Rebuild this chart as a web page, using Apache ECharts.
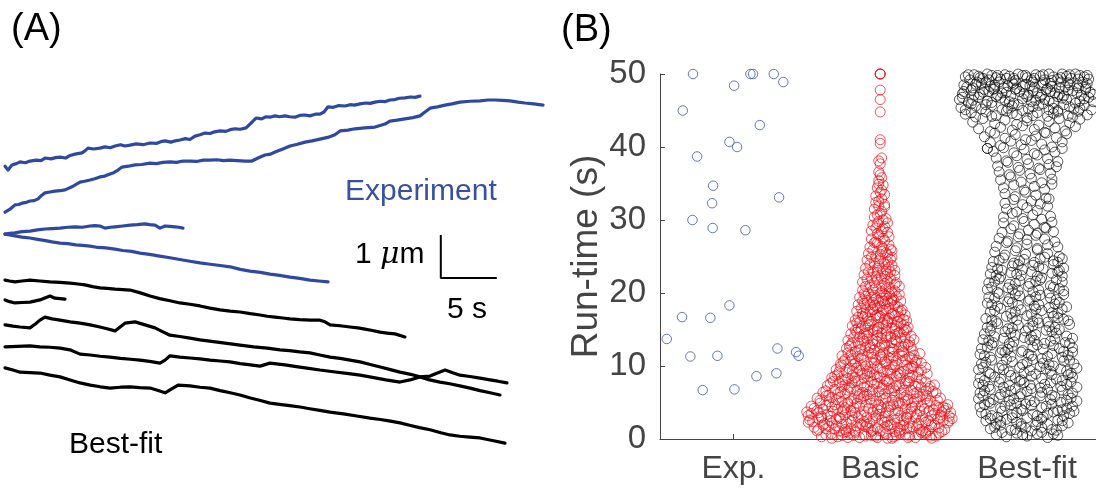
<!DOCTYPE html>
<html><head><meta charset="utf-8">
<script src="https://cdn.jsdelivr.net/npm/echarts@6/dist/echarts.min.js"></script>
<style>html,body{margin:0;padding:0;background:#fff}#c{width:1096px;height:494px}</style>
</head><body><div id="c"></div>
<script>
const FONT = '"Liberation Sans", Arial, Helvetica, sans-serif';

// ---------- Panel B data ----------
const categories = ['Exp.', 'Basic', 'Best-fit'];
const runTimeTicks = [0, 10, 20, 30, 40, 50];

// [offset from category centre, run-time (s)]
const expPoints = [
  [-0.275,50],[0.116,50],[0.134,50],[0.275,50],[0.005,48.4],[0.34,48.9],[-0.345,45.0],[0.18,43.0],
  [-0.027,40.7],[0.025,40.0],[-0.247,38.7],[-0.138,34.7],[-0.145,32.3],[0.311,33.1],[-0.279,30.0],
  [-0.141,28.9],[0.082,28.6],[-0.027,18.3],[-0.35,16.7],[-0.157,16.6],[-0.454,13.7],[0.30,12.4],
  [0.427,11.9],[0.445,11.4],[-0.293,11.3],[-0.109,11.4],[0.293,9.0],[0.157,8.6],[-0.209,6.7],[0.007,6.8]
];

// flat list: offset, run-time, offset, run-time ...
const basicSwarm = [
-.37,.6,-.29,.3,-.21,.8,-.14,.2,-.06,.5,.02,.9,.09,.3,.17,.6,.24,.2,.31,.7,.38,.4,-.33,.1,-.25,.9,-.10,.4,.05,.1,.13,.8,.20,.4,.28,.9,.35,.1,-.18,.5,-.02,.2,.40,.8,
-.42,1.3,-.35,1.7,-.28,1.1,-.20,1.5,-.12,1.9,-.05,1.2,.03,1.6,.10,1.0,.18,1.4,.25,1.8,.33,1.2,.40,1.5,-.39,1.9,-.31,1.4,-.23,1.0,-.16,1.8,-.08,1.5,.00,1.1,.07,1.9,.14,1.3,.22,1.7,.29,1.1,.37,1.9,.44,1.3,-.45,1.6,.12,1.6,
-.46,2.4,-.38,2.1,-.30,2.7,-.23,2.3,-.15,2.9,-.07,2.2,.01,2.6,.08,2.0,.16,2.5,.24,2.9,.31,2.3,.39,2.7,.46,2.2,-.42,2.8,-.34,2.5,-.26,2.0,-.19,2.6,-.11,2.4,-.03,2.9,.05,2.4,.12,2.8,.20,2.2,.28,2.6,.35,2.0,.43,2.5,-.49,2.3,.49,2.8,
-.47,3.5,-.40,3.1,-.32,3.8,-.24,3.3,-.17,3.6,-.09,3.0,-.01,3.4,.06,3.9,.14,3.2,.21,3.7,.29,3.1,.37,3.5,.44,3.9,-.43,3.9,-.36,3.4,-.28,3.0,-.20,3.9,-.13,3.3,-.05,3.7,.03,3.1,.10,3.5,.18,3.0,.25,3.4,.33,3.8,.41,3.3,.48,3.6,-.50,3.7,
-.45,4.2,-.37,4.6,-.29,4.1,-.22,4.8,-.14,4.4,-.06,4.9,.01,4.3,.09,4.7,.17,4.1,.24,4.5,.32,4.9,.40,4.3,.46,4.7,-.41,4.9,-.33,4.4,-.25,4.0,-.18,4.3,-.10,4.6,-.02,4.1,.05,4.5,.13,4.9,.21,4.2,.28,4.6,.36,4.0,.43,4.4,
-.41,5.3,-.33,5.7,-.26,5.1,-.18,5.5,-.11,5.9,-.03,5.2,.04,5.6,.12,5.0,.19,5.4,.27,5.8,.34,5.2,.41,5.6,-.37,5.9,-.30,5.4,-.22,5.0,-.15,5.8,-.07,5.4,.00,5.9,.08,5.3,.16,5.7,.23,5.1,.31,5.5,
-.39,6.4,-.31,6.8,-.24,6.2,-.16,6.6,-.09,6.1,-.01,6.5,.06,6.9,.14,6.3,.21,6.7,.29,6.1,.36,6.5,-.35,6.0,-.27,6.5,-.20,6.9,-.12,6.4,-.05,6.8,.03,6.2,.10,6.6,.18,6.0,.25,6.4,.33,6.9,
-.36,7.3,-.28,7.7,-.21,7.1,-.13,7.5,-.06,7.9,.02,7.4,.09,7.0,.17,7.6,.24,7.2,.31,7.8,.37,7.4,-.32,7.9,-.24,7.4,-.17,7.9,-.09,7.2,-.02,7.6,.06,7.8,.13,7.3,.20,7.9,.28,7.1,
-.33,8.4,-.26,8.1,-.19,8.7,-.11,8.3,-.04,8.8,.03,8.2,.11,8.6,.18,8.0,.25,8.5,.32,8.9,-.29,8.8,-.22,8.3,-.15,8.0,-.07,8.6,.00,8.4,.07,8.9,.14,8.3,.22,8.7,
-.30,9.5,-.23,9.1,-.16,9.7,-.09,9.3,-.02,9.9,.05,9.4,.12,9.0,.19,9.6,.26,9.2,.31,9.8,-.27,9.9,-.19,9.3,-.12,9.0,-.05,9.6,.02,9.2,.09,9.8,.16,9.3,.23,9.9,
-.27,10.3,-.20,10.7,-.13,10.1,-.06,10.5,.01,10.9,.08,10.2,.15,10.6,.22,10.0,.28,10.4,-.24,10.9,-.17,10.4,-.10,10.0,-.03,10.8,.04,10.3,.11,10.7,.18,10.1,.25,10.8,
-.26,11.4,-.19,11.0,-.12,11.6,-.05,11.2,.02,11.8,.09,11.3,.16,11.9,.23,11.5,-.22,11.8,-.15,11.3,-.08,11.9,.00,11.5,.06,11.1,.13,11.6,.20,11.2,.27,11.7,
-.23,12.4,-.17,12.0,-.10,12.6,-.04,12.2,.03,12.8,.09,12.3,.16,12.7,.22,12.1,-.20,12.9,-.13,12.3,-.07,12.8,.00,12.5,.06,12.0,.13,12.6,.19,12.9,
-.22,13.5,-.15,13.1,-.09,13.7,-.02,13.3,.04,13.9,.11,13.4,.17,13.0,.23,13.6,-.18,13.9,-.11,13.4,-.05,13.0,.01,13.8,.08,13.2,.14,13.8,.20,13.3,
-.20,14.4,-.14,14.0,-.08,14.6,-.02,14.2,.04,14.8,.10,14.3,.16,14.7,.21,14.1,-.17,14.9,-.11,14.4,-.05,14.9,.01,14.5,.07,14.0,.13,14.6,
-.19,15.5,-.13,15.1,-.07,15.7,-.01,15.3,.05,15.9,.11,15.4,.17,15.0,-.16,15.9,-.10,15.4,-.04,15.0,.02,15.8,.08,15.2,.14,15.8,.19,15.3,
-.17,16.3,-.12,16.8,-.06,16.1,-.01,16.6,.05,16.2,.10,16.9,.16,16.4,-.14,16.0,-.09,16.5,-.03,16.9,.03,16.4,.08,16.0,.13,16.7,.18,16.2,
-.16,17.5,-.10,17.1,-.05,17.7,.01,17.3,.06,17.9,.12,17.4,.17,17.0,-.13,17.9,-.07,17.4,-.02,17.0,.04,17.8,.09,17.2,.15,17.7,
-.15,18.4,-.10,18.0,-.05,18.7,.00,18.2,.05,18.8,.10,18.3,.14,18.9,-.12,18.9,-.07,18.4,-.02,18.0,.03,18.5,.08,18.9,.12,18.1,
-.14,19.4,-.09,19.0,-.04,19.7,.01,19.3,.06,19.9,.11,19.5,-.11,19.9,-.06,19.4,-.01,19.0,.04,19.6,.09,19.1,.13,19.8,
-.12,20.4,-.08,20.0,-.03,20.7,.01,20.2,.06,20.8,.10,20.3,.13,20.9,-.10,20.9,-.05,20.4,.00,20.0,.04,20.6,.08,20.1,
-.12,21.5,-.07,21.1,-.02,21.8,.03,21.3,.07,21.9,.11,21.4,-.09,21.9,-.04,21.4,.01,21.0,.05,21.6,.10,21.2,
-.11,22.5,-.06,22.1,-.02,22.8,.03,22.3,.07,22.9,.10,22.4,-.08,22.9,-.03,22.3,.01,22.0,.05,22.6,
-.10,23.4,-.05,23.0,-.01,23.7,.04,23.2,.08,23.8,-.07,23.9,-.02,23.4,.02,23.0,.06,23.5,.10,23.1,
-.09,24.5,-.04,24.1,.00,24.7,.05,24.3,.08,24.9,-.06,24.9,-.01,24.4,.03,24.0,.07,24.6,
-.08,25.4,-.03,25.0,.01,25.7,.05,25.2,.08,25.8,-.05,25.9,.00,25.3,.04,25.5,
-.07,26.3,-.02,26.8,.02,26.1,.06,26.6,-.04,26.9,.01,26.4,.07,26.0,
-.06,27.4,-.01,27.9,.03,27.2,.06,27.7,-.03,27.0,.02,27.5,
-.06,28.5,-.02,28.1,.02,28.8,.05,28.3,-.03,28.9,.01,28.4,
-.05,29.3,-.01,29.8,.03,29.1,.05,29.6,-.02,29.5,
-.04,30.4,.00,30.9,.04,30.2,-.02,30.7,.02,30.0,
-.04,31.5,.01,31.2,.03,31.8,-.01,31.9,
-.03,32.4,.01,32.9,.03,32.1,-.01,32.6,
-.03,33.3,.00,33.8,.03,33.5,
-.02,34.4,.01,34.1,.02,34.8,-.01,34.9,
-.01,35.4,.01,35.8,.00,36.2,-.01,36.6,.00,37.7,-.01,38.1,.01,38.5,
.00,40.5,.00,41.0,.00,44.8,.00,46.5,.00,47.8,.00,50,.00,50,.00,50,
-.40,.3,-.33,.7,-.26,.5,-.17,.9,-.11,.6,-.03,.4,.04,.7,.11,.5,.19,.2,.26,.6,.34,.4,-.22,.2,.08,.1,.31,.9,
-.43,1.1,-.37,1.4,-.30,1.8,-.24,1.3,-.17,1.1,-.10,1.7,-.02,1.4,.05,1.8,.13,1.1,.20,1.5,.27,1.3,.35,1.7,.42,1.0,-.06,1.0,.16,1.9,
-.48,2.6,-.40,2.9,-.33,2.2,-.27,2.8,-.20,2.4,-.13,2.1,-.05,2.7,.03,2.3,.10,2.6,.18,2.9,.26,2.1,.33,2.5,.41,2.9,.47,2.5,-.09,2.0,
-.49,3.2,-.42,3.6,-.34,3.1,-.26,3.7,-.19,3.2,-.11,3.8,-.03,3.2,.04,3.6,.12,3.9,.19,3.4,.27,3.8,.35,3.2,.42,3.7,.47,3.1,.00,3.9,
-.47,4.5,-.39,4.1,-.31,4.7,-.24,4.3,-.16,4.9,-.08,4.2,-.01,4.7,.07,4.4,.15,4.8,.22,4.4,.30,4.1,.38,4.6,.45,4.2,
-.43,5.6,-.35,5.1,-.28,5.7,-.20,5.2,-.13,5.5,-.05,5.9,.02,5.4,.10,5.8,.17,5.2,.25,5.5,.32,5.9,.39,5.3,
-.37,6.6,-.29,6.2,-.22,6.7,-.14,6.1,-.07,6.5,.01,6.9,.08,6.3,.16,6.7,.23,6.2,.31,6.6,.38,6.3,
-.34,7.6,-.26,7.2,-.19,7.7,-.11,7.1,-.04,7.5,.04,7.9,.11,7.3,.19,7.7,.26,7.5,.34,7.2,
-.31,8.6,-.24,8.1,-.17,8.4,-.09,8.9,-.02,8.5,.05,8.0,.13,8.8,.20,8.4,.28,8.2,
-.28,9.2,-.21,9.6,-.14,9.4,-.07,9.1,.00,9.7,.07,9.5,.14,9.1,.21,9.7,.28,9.4,
-.25,10.6,-.18,10.2,-.11,10.8,-.04,10.4,.03,10.6,.10,10.1,.17,10.9,.24,10.5,-.20,11.5,-.13,11.1,-.06,11.7,.01,11.3,.08,11.9,.15,11.4,.22,11.0,
-.21,12.7,-.14,12.2,-.07,12.5,.01,12.9,.08,12.4,.15,12.1,.21,12.6,-.19,13.2,-.12,13.8,-.05,13.5,.03,13.1,.10,13.6,.17,13.9,-.16,14.6,-.09,14.2,-.02,14.7,.05,14.1,.12,14.5,.18,14.9,
-.15,15.2,-.08,15.6,-.02,15.1,.04,15.6,.10,15.1,.16,15.6,-.15,16.7,-.08,16.2,.00,16.8,.06,16.5,.12,16.1,-.12,17.2,-.05,17.8,.02,17.6,.08,17.1,.14,17.5,-.11,18.6,-.04,18.3,.02,18.9,.07,18.6,-.10,19.6,-.03,19.2,.03,19.8,.08,19.3
];

const bestFitSwarm = [
-.42,49.6,-.36,49.9,-.30,49.4,-.24,49.8,-.18,49.3,-.12,49.7,-.06,50.0,.00,49.5,.06,49.9,.12,49.2,.18,49.6,.24,50.0,.30,49.4,.36,49.8,.42,49.3,-.39,49.2,-.33,49.7,-.27,50.0,-.21,49.5,-.15,49.9,-.09,49.4,-.03,49.8,.03,49.2,.09,49.7,.15,50.0,.21,49.3,.27,49.7,.33,50.0,.39,49.6,
-.43,48.5,-.37,48.1,-.31,48.7,-.25,48.3,-.19,48.9,-.13,48.4,-.07,48.0,-.01,48.6,.05,48.2,.11,48.8,.17,48.3,.23,48.9,.29,48.5,.35,48.1,.41,48.7,-.34,48.9,-.22,48.0,-.10,48.8,.02,48.4,.14,48.0,.26,48.2,.38,48.9,
-.44,47.3,-.38,47.8,-.32,47.2,-.26,47.6,-.20,47.1,-.14,47.5,-.08,47.9,-.02,47.3,.04,47.7,.10,47.1,.16,47.6,.22,47.2,.28,47.8,.34,47.4,.40,47.9,.45,47.2,-.29,47.9,-.11,47.0,.07,47.4,.25,47.0,
-.46,46.5,-.40,46.1,-.33,46.8,-.27,46.3,-.21,46.9,-.15,46.4,-.09,46.0,-.03,46.6,.03,46.2,.09,46.8,.15,46.3,.21,46.9,.27,46.5,.33,46.0,.39,46.6,.45,46.2,-.18,46.7,.12,46.5,
-.45,45.4,-.38,45.9,-.31,45.2,-.24,45.7,-.17,45.1,-.10,45.6,-.03,45.0,.04,45.5,.11,45.9,.18,45.3,.25,45.8,.32,45.2,.39,45.7,.44,45.1,-.06,45.8,.21,45.0,
-.42,44.5,-.35,44.1,-.28,44.8,-.21,44.3,-.14,44.9,-.07,44.4,.00,44.0,.07,44.7,.14,44.2,.21,44.8,.28,44.3,.35,44.9,.41,44.4,
-.37,43.4,-.30,43.9,-.22,43.2,-.15,43.7,-.07,43.1,.00,43.6,.08,43.0,.15,43.5,.22,43.9,.29,43.3,.36,43.8,
-.33,42.5,-.25,42.1,-.18,42.7,-.10,42.3,-.03,42.9,.05,42.4,.12,42.0,.19,42.6,.26,42.2,.33,42.8,
-.29,41.4,-.22,41.9,-.15,41.2,-.08,41.7,-.01,41.0,.06,41.5,.13,41.9,.20,41.3,.27,41.8,
-.25,40.6,-.18,40.2,-.11,40.8,-.04,40.3,.03,40.9,.10,40.4,.17,40.0,.24,40.7,-.27,39.8,-.27,39.8,
-.23,39.4,-.16,39.9,-.09,39.2,-.02,39.7,.05,39.1,.12,39.6,.19,39.3,.24,39.8,
-.21,38.5,-.14,38.1,-.07,38.8,.00,38.3,.07,38.9,.14,38.4,.21,38.0,
-.20,37.4,-.13,37.9,-.06,37.2,.01,37.7,.08,37.1,.15,37.6,.20,37.3,
-.19,36.6,-.12,36.2,-.05,36.8,.02,36.3,.09,36.9,.16,36.4,
-.18,35.5,-.11,35.9,-.04,35.2,.03,35.7,.10,35.1,.17,35.6,
-.16,34.4,-.09,34.8,-.02,34.1,.05,34.6,.12,34.2,.17,34.9,
-.15,33.6,-.08,33.2,-.01,33.8,.06,33.4,.13,33.0,
-.15,32.3,-.09,32.8,-.03,32.1,.03,32.6,.09,32.2,.15,32.9,
-.14,31.5,-.07,31.1,.00,31.7,.07,31.3,.14,31.9,
-.16,30.4,-.10,30.9,-.03,30.2,.04,30.7,.10,30.1,.16,30.5,
-.16,29.6,-.09,29.2,-.02,29.8,.05,29.4,.12,29.0,.17,29.7,
-.17,28.3,-.11,28.8,-.05,28.1,.01,28.6,.07,28.2,.13,28.9,.18,28.4,
-.19,27.5,-.13,27.1,-.06,27.7,.00,27.3,.06,27.9,.12,27.4,.19,27.0,
-.21,26.4,-.14,26.9,-.07,26.2,.00,26.7,.07,26.1,.14,26.6,.21,26.3,
-.22,25.6,-.15,25.2,-.08,25.8,-.01,25.3,.07,25.9,.14,25.4,.22,25.0,
-.23,24.3,-.16,24.8,-.09,24.1,-.02,24.6,.05,24.2,.12,24.9,.18,24.4,.24,24.7,
-.24,23.5,-.17,23.1,-.10,23.7,-.03,23.2,.04,23.8,.11,23.3,.18,23.9,.25,23.4,
-.25,22.6,-.18,22.2,-.11,22.8,-.04,22.4,.03,22.9,.10,22.1,.17,22.7,.24,22.3,
-.26,21.4,-.19,21.9,-.12,21.2,-.05,21.7,.02,21.3,.09,21.8,.16,21.0,.24,21.5,
-.27,20.5,-.20,20.1,-.13,20.7,-.06,20.3,.01,20.9,.08,20.4,.15,20.0,.22,20.6,
-.26,19.4,-.19,19.9,-.12,19.2,-.05,19.6,.02,19.1,.09,19.7,.16,19.3,.25,19.8,
-.27,18.6,-.20,18.2,-.13,18.8,-.06,18.3,.01,18.9,.08,18.4,.15,18.0,.22,18.7,.27,18.1,
-.25,17.4,-.18,17.9,-.11,17.2,-.04,17.7,.03,17.1,.10,17.6,.17,17.3,.24,17.8,
-.28,16.5,-.21,16.1,-.14,16.8,-.07,16.3,.00,16.9,.07,16.4,.14,16.0,.21,16.6,.28,16.2,
-.27,15.3,-.20,15.8,-.13,15.1,-.06,15.6,.01,15.2,.08,15.9,.15,15.4,.22,15.0,.29,15.7,
-.29,14.4,-.22,14.0,-.15,14.7,-.08,14.2,-.01,14.8,.06,14.3,.13,14.9,.20,14.5,.27,14.1,
-.30,13.6,-.23,13.2,-.16,13.8,-.09,13.3,-.02,13.9,.05,13.5,.12,13.1,.19,13.7,.26,13.2,.31,13.8,
-.31,12.4,-.24,12.9,-.17,12.2,-.10,12.7,-.03,12.1,.04,12.6,.11,12.3,.18,12.8,.25,12.0,.31,12.5,
-.32,11.6,-.25,11.2,-.18,11.8,-.11,11.3,-.04,11.9,.03,11.4,.10,11.0,.17,11.7,.24,11.2,.31,11.9,
-.31,10.3,-.24,10.8,-.17,10.1,-.10,10.6,-.03,10.2,.04,10.9,.11,10.4,.18,10.0,.25,10.7,.32,10.3,
-.33,9.5,-.26,9.1,-.19,9.7,-.12,9.2,-.05,9.8,.02,9.4,.09,9.9,.16,9.3,.23,9.6,.30,9.0,.34,9.7,
-.32,8.4,-.25,8.9,-.18,8.2,-.11,8.7,-.04,8.1,.03,8.6,.10,8.3,.17,8.8,.24,8.0,.31,8.5,-.29,8.0,
-.33,7.6,-.26,7.2,-.19,7.8,-.12,7.3,-.05,7.9,.02,7.4,.09,7.0,.16,7.7,.23,7.2,.30,7.8,.34,7.1,
-.32,6.3,-.25,6.8,-.18,6.1,-.11,6.6,-.04,6.2,.03,6.9,.10,6.4,.17,6.0,.24,6.7,.31,6.3,-.08,6.9,
-.33,5.5,-.26,5.1,-.19,5.7,-.12,5.2,-.05,5.8,.02,5.3,.09,5.9,.16,5.4,.23,5.0,.30,5.6,.34,5.2,
-.32,4.4,-.25,4.9,-.18,4.2,-.11,4.7,-.04,4.1,.03,4.6,.10,4.3,.17,4.8,.24,4.0,.31,4.5,-.07,4.9,
-.31,3.6,-.24,3.2,-.17,3.8,-.10,3.3,-.03,3.9,.04,3.4,.11,3.0,.18,3.7,.25,3.2,.32,3.8,.14,3.5,
-.28,2.5,-.21,2.1,-.14,2.7,-.07,2.3,.00,2.9,.07,2.4,.14,2.0,.21,2.6,.28,2.2,-.10,2.9,
-.25,1.4,-.18,1.9,-.11,1.2,-.04,1.7,.03,1.1,.10,1.6,.17,1.3,.24,1.8,-.01,1.5,
-.21,.6,-.14,.3,-.07,.8,.00,.4,.07,.7,.14,.2,.21,.5,
-.40,49.9,-.32,49.5,-.26,49.2,-.20,49.8,-.14,49.4,-.08,49.1,-.01,49.8,.05,49.4,.11,49.9,.17,49.1,.23,49.5,.29,49.9,.35,49.3,.41,49.8,
-.41,48.2,-.35,48.6,-.28,48.9,-.22,48.5,-.16,48.1,-.09,48.6,-.03,48.3,.04,48.9,.10,48.5,.16,48.7,.22,48.1,.28,48.8,.34,48.4,.40,48.2,
-.43,47.6,-.36,47.1,-.30,47.5,-.23,47.9,-.17,47.4,-.05,47.6,.01,47.1,.13,47.8,.19,47.4,.31,47.7,.37,47.1,.43,47.5,
-.44,46.8,-.37,46.4,-.24,46.1,-.12,46.2,.00,46.9,.06,46.4,.18,46.1,.24,46.7,.36,46.3,.42,46.8,
-.42,45.1,-.35,45.6,-.28,45.8,-.13,45.3,.01,45.2,.08,45.7,.15,45.1,.29,45.5,.36,45.3,
-.38,44.7,-.24,44.2,-.10,44.6,.04,44.3,.18,44.6,.31,44.1,
-.17,.9,-.03,.6,.10,.9,.18,.7,
-.22,1.6,-.08,1.3,.06,1.9,.20,1.2,
-.25,2.8,-.18,2.4,-.04,2.1,.10,2.7,.24,2.5,
-.28,3.4,-.20,3.0,-.07,3.6,.07,3.2,.21,3.9,.29,3.5,
-.29,4.7,-.15,4.5,-.01,4.8,.13,4.5,.27,4.2,
-.30,5.9,-.23,5.4,-.09,5.5,.05,5.1,.19,5.8,.27,5.3,
-.29,6.6,-.15,6.4,.00,6.5,.14,6.8,.28,6.1,
-.30,7.4,-.16,7.1,-.02,7.7,.12,7.5,.27,7.5,
-.22,8.5,-.08,8.4,.06,8.9,.20,8.2,.28,8.8,
-.30,9.8,-.16,9.5,-.02,9.1,.13,9.6,.27,9.3,
-.28,10.5,-.14,10.9,.00,10.5,.15,10.2,.29,10.8,
-.29,11.4,-.15,11.9,.01,11.6,.14,11.3,.28,11.5,
-.27,12.6,-.13,12.3,.07,12.9,.22,12.4,
-.26,13.5,-.12,13.1,.02,13.6,.16,13.4,.29,13.1,
-.25,14.8,-.11,14.5,.03,14.1,.17,14.7,
-.24,15.5,-.10,15.2,.04,15.5,.19,15.3,
-.24,16.3,-.10,16.6,.04,16.1,.18,16.8,.25,16.4,
-.22,17.6,-.08,17.4,.06,17.8,.21,17.2,
-.24,18.4,-.10,18.7,.05,18.2,.19,18.5,
-.22,19.3,-.08,19.8,.06,19.5,.20,19.1,
-.24,20.8,-.10,20.5,.04,20.2,.18,20.8,.25,20.3,
-.22,21.6,-.08,21.3,.06,21.6,.20,21.8,
-.21,22.4,-.07,22.6,.07,22.3,.21,22.9,
-.20,23.3,-.06,23.9,.08,23.6,.22,23.1,
-.19,24.5,-.05,24.4,.09,24.7,.21,24.2
];

// ---------- Panel A data: [time (s), position (um)] ----------
const expTrace1 = [[0.09,7.60],[0.36,7.51],[0.71,7.63],[1.1,7.66],[1.43,7.70],[1.9,7.68],[2.32,7.72],[2.9,7.74],[3.3,7.73],[3.66,7.79],[4.2,7.77],[4.6,7.80],[5.0,7.81],[5.5,7.79],[5.9,7.85],[6.34,7.88],[6.96,7.91],[7.2,7.95],[7.5,8.02],[8.0,8.00],[8.57,8.02],[9.0,8.05],[9.5,8.03],[9.91,8.07],[10.4,8.10],[10.8,8.07],[11.25,8.09],[11.8,8.12],[12.4,8.10],[13.04,8.14],[13.6,8.13],[14.0,8.17],[14.38,8.19],[14.9,8.16],[15.3,8.19],[15.71,8.21],[16.2,8.24],[16.6,8.22],[17.05,8.30],[17.5,8.33],[17.95,8.37],[18.4,8.36],[18.8,8.40],[19.29,8.42],[19.8,8.41],[20.2,8.45],[20.63,8.47],[21.1,8.46],[21.61,8.49],[21.96,8.58],[22.2,8.64],[22.5,8.72],[23.0,8.70],[23.4,8.75],[23.75,8.74],[24.2,8.77],[24.6,8.75],[25.09,8.77],[25.5,8.75],[25.98,8.74],[26.4,8.78],[26.88,8.79],[27.3,8.77],[27.8,8.81],[28.21,8.81],[28.57,8.86],[28.93,8.98],[29.4,8.97],[29.9,9.01],[30.45,9.0],[30.9,9.03],[31.3,9.02],[31.79,9.05],[32.3,9.07],[32.7,9.06],[33.13,9.09],[33.6,9.11],[34.0,9.10],[34.46,9.14],[34.9,9.15],[35.3,9.18],[35.8,9.19],[36.3,9.21],[36.7,9.20],[37.14,9.23]];
const expTrace2 = [[0.09,6.53],[0.54,6.60],[0.98,6.70],[1.3,6.71],[1.61,6.74],[2.0,6.76],[2.32,6.79],[2.7,6.80],[3.04,6.84],[3.35,6.92],[3.66,6.98],[4.1,7.00],[4.55,7.02],[5.0,7.03],[5.45,7.05],[6.07,7.12],[6.4,7.17],[6.79,7.23],[7.2,7.25],[7.68,7.28],[8.1,7.31],[8.57,7.35],[9.0,7.37],[9.46,7.42],[9.8,7.45],[10.18,7.51],[10.54,7.58],[11.1,7.60],[11.7,7.63],[12.3,7.64],[13.04,7.67],[13.6,7.66],[14.2,7.69],[14.82,7.70],[15.4,7.69],[16.0,7.72],[16.61,7.72],[17.2,7.71],[17.8,7.74],[18.39,7.74],[19.0,7.75],[19.6,7.73],[20.18,7.74],[20.8,7.73],[21.52,7.72],[22.14,7.72],[22.68,7.79],[23.3,7.86],[23.8,7.88],[24.2,7.93],[24.9,8.00],[25.54,8.07],[26.2,8.11],[26.88,8.16],[27.5,8.19],[28.21,8.23],[28.9,8.27],[29.55,8.33],[30.0,8.42],[30.7,8.44],[31.34,8.47],[32.2,8.49],[33.13,8.51],[34.02,8.58],[34.46,8.65],[35.1,8.67],[35.8,8.70],[36.5,8.73],[37.14,8.77],[37.59,8.86],[38.04,8.95],[38.7,8.98],[39.38,9.02],[40.0,9.05],[40.71,9.09],[41.6,9.11],[42.5,9.12],[43.2,9.14],[43.84,9.14],[44.5,9.13],[45.18,9.12],[45.9,9.09],[46.52,9.07],[47.3,9.05],[48.13,9.02]];
const expTrace3 = [[0.09,6.02],[0.5,6.04],[0.98,6.05],[1.6,6.08],[2.32,6.09],[3.0,6.12],[3.66,6.14],[4.3,6.15],[5.0,6.16],[5.7,6.18],[6.34,6.19],[7.0,6.18],[7.68,6.21],[8.1,6.22],[8.57,6.21],[9.02,6.16],[9.5,6.18],[9.91,6.19],[10.6,6.21],[11.25,6.23],[11.9,6.24],[12.59,6.26],[13.0,6.24],[13.48,6.23],[13.93,6.16],[14.38,6.21],[14.8,6.20],[15.27,6.19],[15.6,6.18],[15.98,6.16]];
const expTrace4 = [[0.09,6.02],[0.5,6.00],[0.98,5.98],[1.6,5.95],[2.32,5.93],[3.0,5.90],[3.7,5.87],[4.3,5.84],[5.0,5.81],[5.7,5.80],[6.4,5.77],[7.0,5.76],[7.68,5.74],[8.4,5.71],[9.1,5.70],[9.91,5.67],[10.6,5.64],[11.4,5.62],[12.14,5.58],[13.0,5.55],[13.9,5.51],[14.82,5.47],[15.7,5.43],[16.6,5.39],[17.5,5.35],[18.4,5.32],[19.3,5.29],[20.18,5.26],[21.1,5.20],[21.96,5.16],[22.9,5.13],[23.75,5.09],[24.6,5.06],[25.54,5.02],[26.4,4.99],[27.32,4.95],[28.1,4.93],[28.93,4.91]];

const fitTrace1 = [[0.09,4.95],[0.5,4.93],[0.98,4.91],[1.6,4.93],[2.32,4.95],[3.2,4.93],[4.11,4.91],[5.0,4.90],[5.89,4.88],[6.6,4.86],[7.23,4.84],[7.9,4.80],[8.57,4.77],[9.2,4.76],[9.91,4.74],[10.6,4.73],[11.25,4.72],[12.1,4.66],[13.04,4.58],[13.9,4.52],[14.82,4.47],[15.71,4.42],[16.6,4.39],[17.5,4.35],[18.4,4.30],[19.29,4.26],[20.2,4.23],[21.07,4.21],[22.0,4.17],[22.86,4.14],[23.5,4.11],[24.2,4.09],[24.9,4.07],[25.54,4.05],[26.4,4.03],[27.32,4.02],[28.21,4.02],[28.66,3.98],[29.11,3.91],[30.0,3.89],[30.89,3.86],[31.6,3.84],[32.23,3.81],[32.9,3.78],[33.57,3.74],[34.2,3.72],[34.91,3.70],[35.8,3.63]];
const fitTrace2 = [[0.09,4.49],[0.5,4.45],[0.98,4.42],[1.6,4.43],[2.32,4.44],[3.21,4.49],[3.7,4.54],[4.11,4.58],[4.55,4.53],[5.0,4.52],[5.45,4.51]];
const fitTrace3 = [[0.09,3.91],[0.8,3.88],[1.43,3.86],[2.32,3.84],[2.8,3.93],[3.21,4.02],[3.66,4.09],[4.3,4.05],[5.0,4.02],[5.9,3.98],[6.79,3.95],[7.7,3.91],[8.57,3.86],[9.2,3.82],[9.91,3.77],[10.8,3.95],[11.7,3.98],[12.59,3.91],[13.48,3.84],[14.1,3.76],[14.82,3.67],[15.7,3.64],[16.6,3.60],[17.5,3.56],[18.7,3.52],[19.9,3.48],[21.07,3.44],[22.3,3.40],[23.5,3.37],[24.64,3.33],[25.5,3.31],[26.4,3.28],[27.32,3.26],[28.2,3.21],[29.11,3.16],[30.0,3.13],[30.9,3.09],[31.79,3.05],[32.7,2.99],[33.6,2.93],[34.5,2.87],[35.36,2.81],[36.3,2.76],[37.14,2.70],[38.04,2.72],[38.7,2.79],[39.38,2.86],[40.0,2.80],[40.71,2.74],[41.6,2.71],[42.5,2.67],[43.39,2.63],[44.1,2.60],[44.91,2.56]];
const fitTrace4 = [[0.09,3.40],[1.2,3.41],[2.32,3.42],[3.2,3.40],[4.1,3.39],[5.0,3.37],[5.89,3.33],[6.79,3.23],[7.7,3.21],[8.6,3.18],[9.46,3.16],[10.4,3.13],[11.3,3.11],[12.14,3.09],[13.0,3.06],[13.93,3.02],[14.38,3.09],[14.82,3.19],[15.7,3.16],[16.61,3.14],[17.5,3.12],[18.4,3.09],[19.3,3.07],[20.18,3.05],[21.1,3.01],[22.0,2.98],[22.86,2.95],[23.75,3.02],[25.09,2.98],[26.1,2.94],[27.2,2.90],[28.21,2.86],[29.4,2.82],[30.6,2.78],[31.79,2.74],[32.9,2.69],[34.1,2.63],[35.36,2.58],[36.25,2.63],[37.14,2.70],[38.0,2.63],[38.93,2.58],[39.8,2.54],[40.7,2.49],[41.61,2.44],[42.5,2.38],[43.4,2.33],[44.29,2.28]];
const fitTrace5 = [[0.09,2.91],[0.8,2.86],[1.43,2.81],[2.3,2.80],[3.21,2.79],[4.1,2.74],[5.0,2.70],[5.9,2.63],[6.79,2.56],[7.7,2.51],[8.6,2.47],[9.46,2.44],[10.4,2.46],[11.25,2.47],[12.1,2.45],[13.04,2.44],[13.7,2.39],[14.38,2.33],[14.82,2.40],[15.54,2.51],[16.61,2.49],[17.5,2.46],[18.39,2.44],[19.3,2.38],[20.2,2.33],[21.07,2.28],[22.0,2.21],[22.9,2.15],[23.75,2.09],[24.6,2.06],[25.5,2.03],[26.43,2.0],[27.3,1.96],[28.2,1.92],[29.11,1.88],[30.3,1.84],[31.5,1.79],[32.68,1.74],[33.6,1.71],[34.5,1.67],[35.36,1.63],[36.3,1.57],[37.1,1.52],[38.04,1.47],[39.0,1.40],[39.82,1.35],[40.7,1.32],[41.6,1.30],[42.5,1.28],[43.6,1.22],[44.73,1.16]];

// scale bar: 1 um vertical, 5 s horizontal
const scaleBar = [[39,6],[39,5],[44,5]];

// ---------- build ----------
function pairs(flat) { const out = []; for (let i = 0; i < flat.length; i += 2) out.push([flat[i], flat[i + 1]]); return out; }
function place(pts, catIdx) { return pts.map(p => [catIdx + 1 + p[0], p[1]]); }

const BLUE = '#2f48a0';
const chart = echarts.init(document.getElementById('c'), null, { renderer: 'canvas' });

function traceSeries(data, color) {
  return { type: 'line', xAxisIndex: 1, yAxisIndex: 1, data: data, showSymbol: false, symbol: 'none',
    lineStyle: { color: color, width: 3.2, join: 'round', cap: 'round' }, silent: true, z: 3 };
}
function swarmSeries(data, color, size) {
  return { type: 'scatter', xAxisIndex: 0, yAxisIndex: 0, data: data, symbol: 'circle', symbolSize: size,
    itemStyle: { color: 'rgba(0,0,0,0)', borderColor: color, borderWidth: 1 }, silent: true, z: 2 };
}

chart.setOption({
  animation: false,
  backgroundColor: '#ffffff',
  grid: [
    { left: 660, right: 0, top: 74, bottom: 55, containLabel: false },
    { left: 4, top: 20, width: 548.8, height: 473, containLabel: false }
  ],
  xAxis: [
    { type: 'value', gridIndex: 0, min: 0.5, max: 3.47,
      axisLine: { show: true, lineStyle: { color: '#444', width: 1 } },
      axisTick: { show: true, inside: true, length: 5, customValues: [1, 2, 3], lineStyle: { color: '#444' } },
      axisLabel: { show: true, customValues: [1, 2, 3], margin: 14, color: '#444', fontSize: 32, fontFamily: FONT,
        formatter: v => categories[Math.round(v) - 1] || '' },
      splitLine: { show: false } },
    { type: 'value', gridIndex: 1, min: 0, max: 49, show: false }
  ],
  yAxis: [
    { type: 'value', gridIndex: 0, min: 0, max: 50, interval: 10,
      name: 'Run-time (s)', nameLocation: 'middle', nameGap: 54,
      nameTextStyle: { color: '#444', fontSize: 37, fontFamily: FONT },
      axisLine: { show: true, lineStyle: { color: '#444', width: 1 } },
      axisTick: { show: true, inside: true, length: 5, lineStyle: { color: '#444' } },
      axisLabel: { margin: 14, color: '#444', fontSize: 33, fontFamily: FONT,
        formatter: v => runTimeTicks.includes(v) ? String(v) : '' },
      splitLine: { show: false } },
    { type: 'value', gridIndex: 1, min: 0, max: 11, show: false }
  ],
  graphic: [
    { type: 'text', x: 11, y: 30, style: { text: '(A)', fill: '#000', fontSize: 38, fontFamily: FONT, align: 'left', verticalAlign: 'middle' } },
    { type: 'text', x: 561, y: 31, style: { text: '(B)', fill: '#000', fontSize: 38, fontFamily: FONT, align: 'left', verticalAlign: 'middle' } },
    { type: 'text', x: 345, y: 192, style: { text: 'Experiment', fill: '#3a50a3', fontSize: 30, fontFamily: FONT, align: 'left', verticalAlign: 'middle' } },
    { type: 'text', x: 69, y: 445, style: { text: 'Best-fit', fill: '#000', fontSize: 30, fontFamily: FONT, align: 'left', verticalAlign: 'middle' } },
    { type: 'text', x: 355, y: 255, style: { text: '1 {i|μ}m', fill: '#000', fontSize: 30, fontFamily: FONT, align: 'left', verticalAlign: 'middle',
        rich: { i: { fontStyle: 'italic', fontSize: 30, fontFamily: '"DejaVu Serif", "Liberation Serif", serif', fill: '#000' } } } },
    { type: 'text', x: 447, y: 310, style: { text: '5 s', fill: '#000', fontSize: 30, fontFamily: FONT, align: 'left', verticalAlign: 'middle' } }
  ],
  series: [
    swarmSeries(place(expPoints, 0), '#3f55b0', 9.5),
    swarmSeries(place(pairs(basicSwarm), 1), 'rgba(232,8,16,0.85)', 10),
    swarmSeries(place(pairs(bestFitSwarm), 2), 'rgba(0,0,0,0.8)', 10),
    traceSeries(expTrace1, BLUE),
    traceSeries(expTrace2, BLUE),
    traceSeries(expTrace3, BLUE),
    traceSeries(expTrace4, BLUE),
    traceSeries(fitTrace1, '#000'),
    traceSeries(fitTrace2, '#000'),
    traceSeries(fitTrace3, '#000'),
    traceSeries(fitTrace4, '#000'),
    traceSeries(fitTrace5, '#000'),
    { type: 'line', xAxisIndex: 1, yAxisIndex: 1, data: scaleBar, showSymbol: false, symbol: 'none',
      lineStyle: { color: '#000', width: 2 }, silent: true, z: 3 }
  ]
});
</script>
</body></html>
